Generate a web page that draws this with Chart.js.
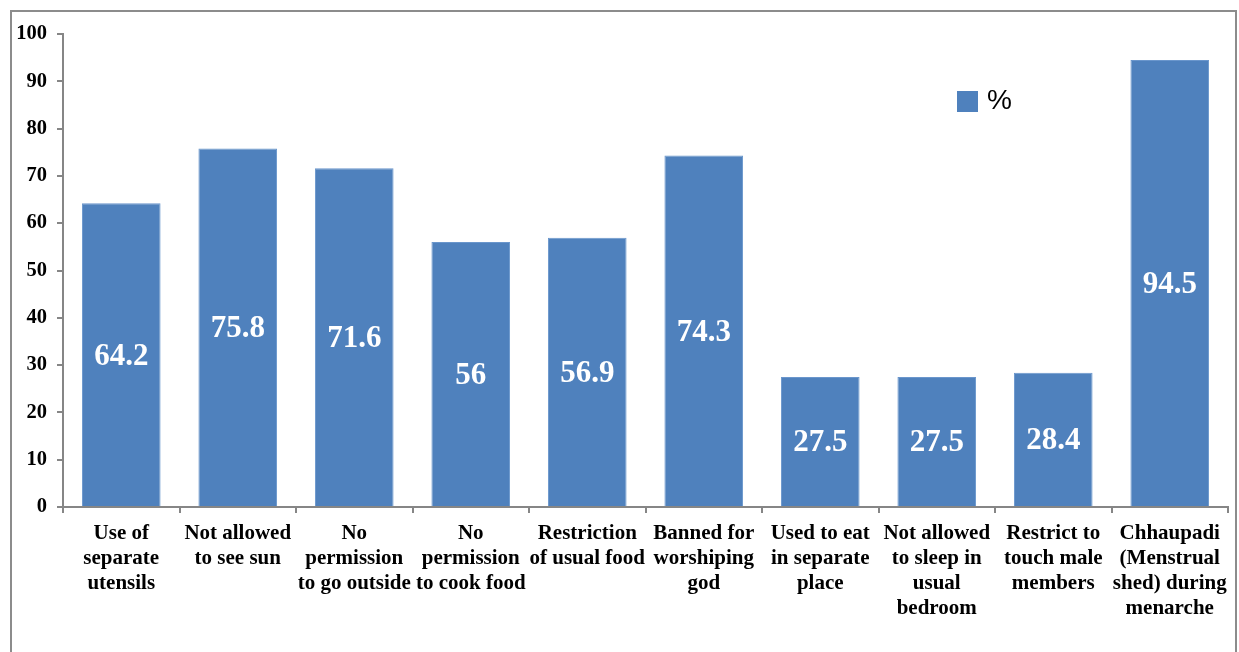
<!DOCTYPE html>
<html>
<head>
<meta charset="utf-8">
<script src="https://cdn.jsdelivr.net/npm/chart.js@4/dist/chart.umd.min.js"></script>
<style>
  html, body { margin: 0; padding: 0; background: #fff; }
  #wrap { width: 1239px; height: 652px; position: relative; }
</style>
</head>
<body>
<div id="wrap"><canvas id="c" width="1239" height="652"></canvas></div>
<script>
const categories = [
  ["Use of", "separate", "utensils"],
  ["Not allowed", "to see sun"],
  ["No", "permission", "to go outside"],
  ["No", "permission", "to cook food"],
  ["Restriction", "of usual food"],
  ["Banned for", "worshiping", "god"],
  ["Used to eat", "in separate", "place"],
  ["Not allowed", "to sleep in", "usual", "bedroom"],
  ["Restrict to", "touch male", "members"],
  ["Chhaupadi", "(Menstrual", "shed) during", "menarche"]
];
const seriesName = "%";
const percentValues = [64.2, 75.8, 71.6, 56, 56.9, 74.3, 27.5, 27.5, 28.4, 94.5];
const yTicks = [0, 10, 20, 30, 40, 50, 60, 70, 80, 90, 100];

const BAR = '#4F81BD';
const AXIS = '#868686';
const SERIF = '"Liberation Serif", "Times New Roman", serif';

const frame = {
  id: 'frame',
  beforeDraw(chart) {
    const ctx = chart.ctx;
    ctx.save();
    ctx.fillStyle = '#fff';
    ctx.fillRect(0, 0, chart.width, chart.height);
    ctx.strokeStyle = '#8c8c8c';
    ctx.lineWidth = 2;
    ctx.beginPath();
    ctx.moveTo(11, chart.height + 5);
    ctx.lineTo(11, 11);
    ctx.lineTo(1236, 11);
    ctx.lineTo(1236, chart.height + 5);
    ctx.stroke();
    ctx.restore();
  }
};

const valueLabels = {
  id: 'valueLabels',
  afterDatasetsDraw(chart) {
    const ctx = chart.ctx;
    const meta = chart.getDatasetMeta(0);
    const data = chart.data.datasets[0].data;
    ctx.save();
    ctx.fillStyle = '#fff';
    ctx.font = 'bold 31px ' + SERIF;
    ctx.textAlign = 'center';
    ctx.textBaseline = 'middle';
    meta.data.forEach((bar, i) => {
      const p = bar.getProps(['x', 'y', 'base'], true);
      ctx.fillText(String(data[i]), p.x, (p.y + p.base) / 2 + 2);
    });
    ctx.restore();
  }
};

const legendBox = {
  id: 'legendBox',
  afterDraw(chart) {
    const ctx = chart.ctx;
    const ds = chart.data.datasets[0];
    ctx.save();
    ctx.fillStyle = ds.backgroundColor;
    ctx.fillRect(957, 91, 21, 21);
    ctx.fillStyle = '#000';
    ctx.font = '28px "Liberation Sans", Arial, sans-serif';
    ctx.textAlign = 'left';
    ctx.textBaseline = 'middle';
    ctx.fillText(ds.label, 987, 101);
    ctx.restore();
  }
};

new Chart(document.getElementById('c'), {
  type: 'bar',
  data: {
    labels: categories,
    datasets: [{
      label: seriesName,
      data: percentValues,
      backgroundColor: BAR,
      borderColor: '#6a96cc',
      borderWidth: 1,
      barPercentage: 0.675,
      categoryPercentage: 1.0
    }]
  },
  options: {
    responsive: false,
    animation: false,
    devicePixelRatio: 1,
    layout: { padding: { left: 0, right: 11, top: 34, bottom: 0 } },
    plugins: {
      legend: { display: false },
      tooltip: { enabled: false }
    },
    scales: {
      x: {
        offset: true,
        grid: {
          offset: true,
          drawOnChartArea: false,
          drawTicks: true,
          tickLength: 6,
          color: AXIS,
          lineWidth: 2
        },
        border: { color: AXIS, width: 2 },
        ticks: {
          color: '#000',
          font: { family: SERIF, size: 21, weight: 'bold', lineHeight: 1.19 },
          padding: 8,
          maxRotation: 0,
          autoSkip: false
        },
        afterFit(scale) { scale.height = 145; }
      },
      y: {
        min: 0,
        max: 100,
        afterBuildTicks(scale) { scale.ticks = yTicks.map(v => ({ value: v })); },
        grid: {
          drawOnChartArea: false,
          drawTicks: true,
          tickLength: 6,
          color: AXIS,
          lineWidth: 2
        },
        border: { color: AXIS, width: 2 },
        ticks: {
          color: '#000',
          font: { family: SERIF, size: 20.5, weight: 'bold' },
          padding: 10
        },
        afterFit(scale) { scale.width = 63; }
      }
    }
  },
  plugins: [frame, valueLabels, legendBox]
});
</script>
</body>
</html>
